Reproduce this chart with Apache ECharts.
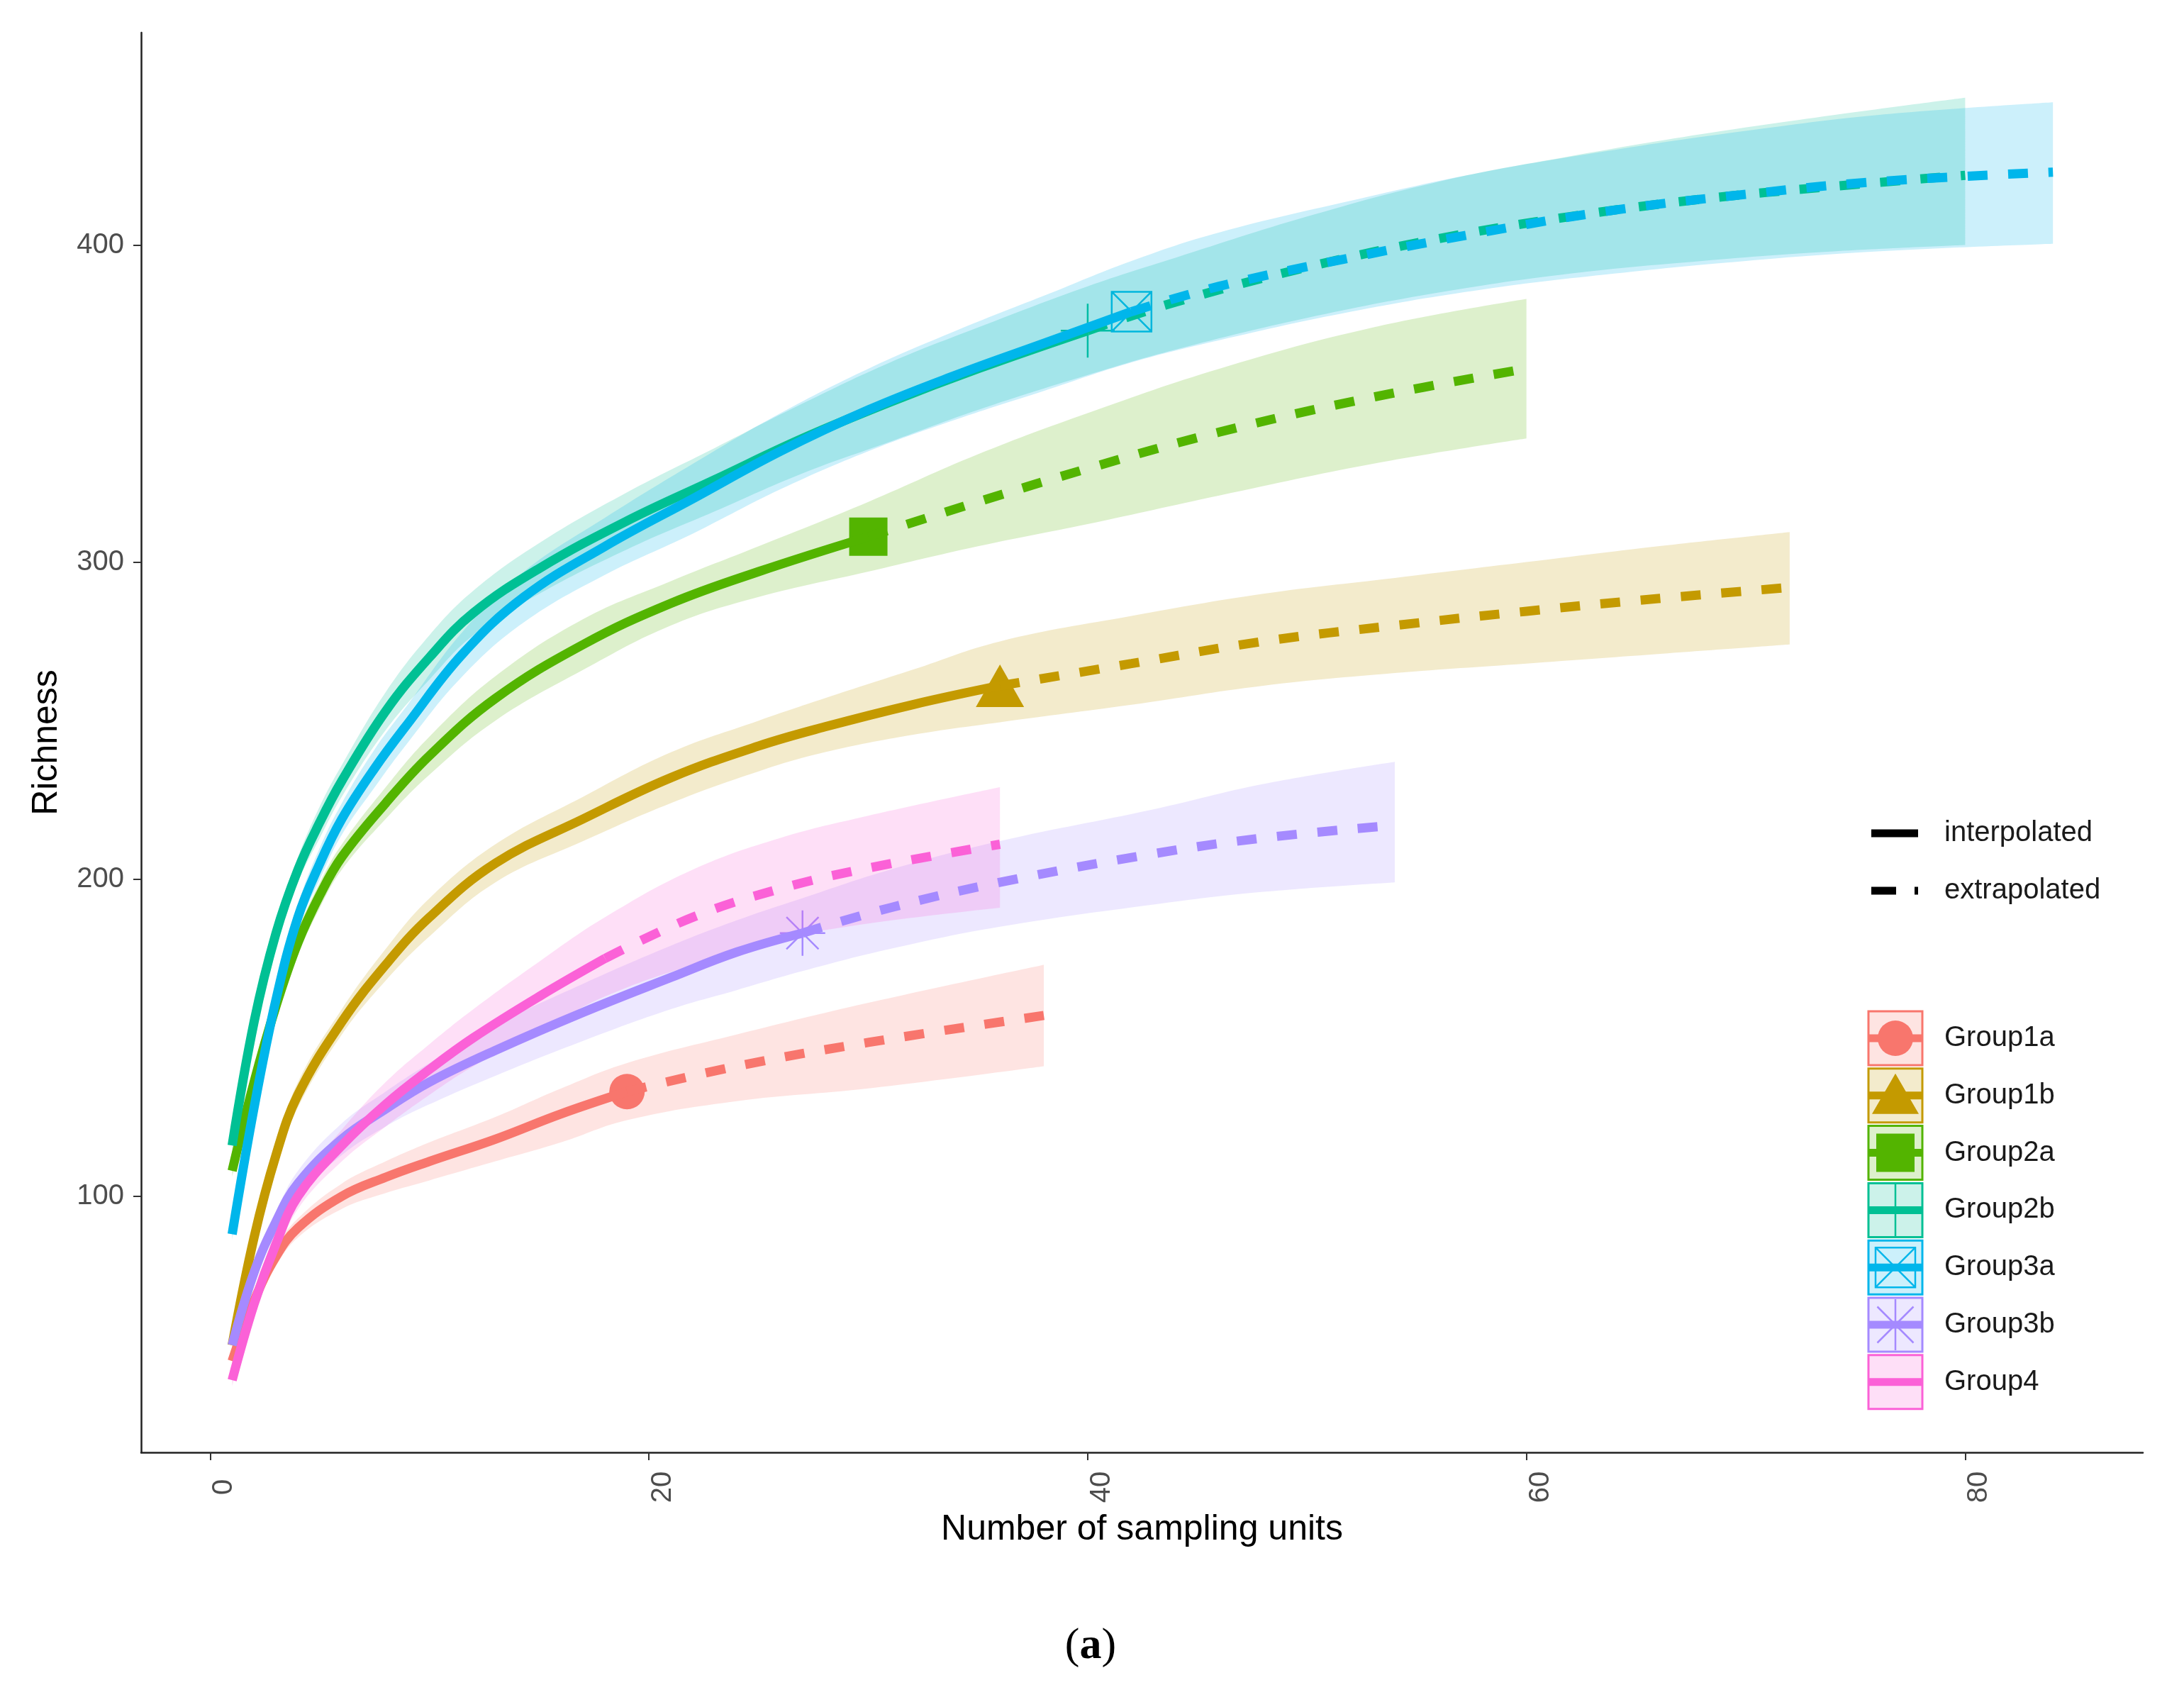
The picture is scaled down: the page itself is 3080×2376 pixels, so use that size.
<!DOCTYPE html>
<html>
<head>
    <meta charset="utf-8">
    <title>Richness rarefaction / extrapolation</title>
    <script src="https://cdn.jsdelivr.net/npm/echarts@6/dist/echarts.min.js"></script>
    <style>
        html, body { margin: 0; padding: 0; background: #fff; }
        #chart { width: 3080px; height: 2376px; }
    </style>
</head>
<body>
<div id="chart"></div>
<script>
    // groups and their observed sample sizes
    var groupNames = ['Group1a', 'Group1b', 'Group2a', 'Group2b', 'Group3a', 'Group3b', 'Group4'];
    var groupColors = ['#F8766D', '#C49A00', '#53B400', '#00C094', '#00B6EB', '#A58AFF', '#FB61D7'];
    var observedN = [19, 36, 30, 40, 42, 27, 18];

    var xTicks = [0, 20, 40, 60, 80];
    var yTicks = [100, 200, 300, 400];

    // Group1a
    var g1aX  = [1, 2, 3, 4, 6, 8, 10, 13, 16, 19, 24, 30, 38];
    var g1aY  = [48, 67, 81, 90, 100, 106, 111, 118, 126, 133, 141, 148.5, 157];
    var g1aLo = [46, 64, 78, 87, 96, 101, 105, 111, 117, 124, 130, 134, 141];
    var g1aHi = [50, 70, 84, 93, 104, 111, 117, 125, 134, 142, 151, 161, 173];

    // Group1b
    var g1bX  = [1, 2, 3, 4, 6, 8, 10, 13, 17, 21, 25, 28, 32, 36, 42, 48, 54, 60, 66, 72];
    var g1bY  = [53, 87, 113, 132, 155, 173, 188, 205, 219, 232, 242, 248, 255, 261, 268, 275, 280, 284.5, 288.5, 292];
    var g1bLo = [51, 84, 110, 128, 151, 168, 182, 199, 212, 224, 234, 240, 245.5, 249.5, 255, 261, 265, 268, 271, 274];
    var g1bHi = [55, 90, 116, 136, 159, 178, 194, 211, 226, 240, 250, 257, 266, 275, 283, 290, 295, 300, 305, 309.5];

    // Group2a
    var g2aX  = [1, 2, 3, 4, 5, 6, 8, 10, 13, 17, 21, 25, 30, 35, 40, 46, 53, 60];
    var g2aY  = [108, 136, 160, 180, 195, 207, 224, 239, 257, 274, 287, 297, 308, 319, 329.5, 341, 352, 361];
    var g2aLo = [106, 133, 156, 176, 191, 203, 219, 233, 250, 266, 280, 289, 297, 305, 312, 321, 331, 339];
    var g2aHi = [110, 139, 164, 184, 199, 211, 229, 245, 264, 282, 294, 305, 319, 334, 347, 361, 374, 383];

    // Group2b
    var g2bX  = [1, 2, 3, 4, 5, 6, 8, 10, 12, 15, 19, 23, 27, 31, 35, 40, 44, 50, 56, 62, 68, 74, 80];
    var g2bY  = [116, 155, 183, 203, 218, 231, 253, 270, 284, 298, 313, 326, 339, 350.5, 361, 373, 382, 393, 402, 409, 414.5, 418.5, 422];
    var g2bLo = [114, 152, 179, 199, 213, 226, 247, 263, 277, 290, 304, 316, 328, 338, 348, 359, 367, 377, 385, 391, 395, 398, 400];
    var g2bHi = [118, 158, 187, 207, 223, 236, 259, 277, 291, 306, 322, 336, 350, 363, 374, 387, 396, 409, 420, 428, 435, 441, 446.5];

    // Group3a
    var g3aX  = [1, 2, 3, 4, 5, 6, 7.5, 9, 11.5, 14.3, 18, 22, 26, 30, 34, 38, 42, 46, 52, 58, 64, 70, 76, 84];
    var g3aY  = [88, 128, 162, 188, 205, 219, 235, 249, 271, 289, 305, 320, 335, 348, 359, 369, 379, 387, 396, 404, 411, 416, 420, 423];
    var g3aLo = [86, 125, 158, 184, 200, 214, 229, 243, 264, 281, 296, 309, 323, 335, 345, 354, 363, 370, 379, 386, 391, 395, 398, 400.4];
    var g3aHi = [90, 131, 166, 192, 210, 224, 241, 255, 278, 297, 314, 331, 347, 361, 373, 384, 395, 404, 414, 423, 430, 436, 441, 445];

    // Group3b
    var g3bX  = [1, 2, 3, 4, 6, 8, 10, 13, 17, 21, 24, 27, 31, 36, 43, 48, 54];
    var g3bY  = [53, 76, 92, 104, 118, 127.5, 136, 146, 158, 169, 177, 183, 191, 199, 208, 213, 217];
    var g3bLo = [51, 73, 89, 100, 113, 122, 129, 138, 149, 159, 165, 171, 178, 185, 192, 196, 199];
    var g3bHi = [55, 79, 95, 108, 123, 133, 142, 154, 167, 179, 187, 194, 203, 212, 222, 230, 237];

    // Group4
    var g4X  = [1, 2, 3, 4, 6, 8, 10, 12, 15, 18, 22, 26, 30, 36];
    var g4Y  = [42, 66, 85, 100, 116, 129, 140, 150, 163, 175, 188, 197, 203.5, 211];
    var g4Lo = [40, 63, 81, 96, 111, 122, 132, 141, 152, 163, 173, 181, 186, 191];
    var g4Hi = [44, 69, 89, 104, 121, 136, 148, 159, 174, 188, 203, 213, 220, 229];

    var groupX  = [g1aX, g1bX, g2aX, g2bX, g3aX, g3bX, g4X];
    var groupY  = [g1aY, g1bY, g2aY, g2bY, g3aY, g3bY, g4Y];
    var groupLo = [g1aLo, g1bLo, g2aLo, g2bLo, g3aLo, g3bLo, g4Lo];
    var groupHi = [g1aHi, g1bHi, g2aHi, g2bHi, g3aHi, g3bHi, g4Hi];

    var plusPath = 'path://M5,0L5,10M0,5L10,5';
    var boxXPath = 'path://M0,0L10,0L10,10L0,10ZM0,0L10,10M10,0L0,10';
    var starPath = 'path://M5,0L5,10M0,5L10,5M1.46,1.46L8.54,8.54M8.54,1.46L1.46,8.54';
    var markerSymbol = ['circle', 'triangle', 'rect', plusPath, boxXPath, starPath, 'none'];
    var markerSize = [50, [68, 60], 54, 76, 56, 64, 0];
    var markerHollow = [false, false, false, true, true, true, false];

    var FONT = '"Liberation Sans", Arial, sans-serif';
    var SMOOTH = 0.4;

    function rgba(hex, a) {
        var n = parseInt(hex.slice(1), 16);
        return 'rgba(' + (n >> 16) + ',' + ((n >> 8) & 255) + ',' + (n & 255) + ',' + a + ')';
    }

    var markerSeries = [], lineSeries = [], bandSeries = [];
    groupNames.forEach(function (name, i) {
        var xs = groupX[i], ys = groupY[i], n = observedN[i], c = groupColors[i];
        var interp = [], extrap = [], obs = null;
        xs.forEach(function (x, k) {
            if (x <= n) interp.push([x, ys[k]]);
            if (x >= n) extrap.push([x, ys[k]]);
            if (x === n) obs = [x, ys[k]];
        });

        if (markerSymbol[i] !== 'none') {
            markerSeries.push({
                type: 'scatter', name: name, data: [obs], silent: true,
                symbol: markerSymbol[i], symbolSize: markerSize[i],
                itemStyle: markerHollow[i]
                    ? {color: 'rgba(0,0,0,0)', borderColor: c, borderWidth: 2.5, opacity: 1}
                    : {color: c, opacity: 1}
            });
        }

        lineSeries.push({
            type: 'line', name: name, data: interp, smooth: SMOOTH,
            symbol: 'none', silent: true,
            lineStyle: {color: c, width: 13, cap: 'butt'}
        });
        lineSeries.push({
            type: 'line', name: name, data: extrap, smooth: SMOOTH,
            symbol: 'none', silent: true,
            lineStyle: {color: c, width: 13, type: [28, 29], cap: 'butt'}
        });

        // ribbon: value put in the first column so that the stack adds on y
        bandSeries.push({
            type: 'line', stack: 'band' + i, encode: {x: 1, y: 0},
            data: xs.map(function (x, k) { return [groupLo[i][k], x]; }),
            smooth: SMOOTH, symbol: 'none', silent: true,
            lineStyle: {opacity: 0, width: 0}
        });
        bandSeries.push({
            type: 'line', stack: 'band' + i, encode: {x: 1, y: 0},
            data: xs.map(function (x, k) { return [groupHi[i][k] - groupLo[i][k], x]; }),
            smooth: SMOOTH, symbol: 'none', silent: true,
            lineStyle: {opacity: 0, width: 0},
            areaStyle: {color: c, opacity: 0.2}
        });
    });

    // legend drawn as graphics (line type keys + group keys)
    var graphics = [];
    var keyX = 2635, keyW = 76, textX = 2742;
    graphics.push({type: 'line', shape: {x1: keyX + 4, y1: 1175, x2: keyX + 70, y2: 1175}, style: {stroke: '#000', lineWidth: 11}});
    graphics.push({type: 'text', x: textX, y: 1175, style: {text: 'interpolated', fontSize: 40, fontFamily: FONT, fill: '#1a1a1a', verticalAlign: 'middle'}});
    graphics.push({type: 'line', shape: {x1: keyX + 4, y1: 1256, x2: keyX + 70, y2: 1256}, style: {stroke: '#000', lineWidth: 11, lineDash: [35, 26]}});
    graphics.push({type: 'text', x: textX, y: 1256, style: {text: 'extrapolated', fontSize: 40, fontFamily: FONT, fill: '#1a1a1a', verticalAlign: 'middle'}});

    groupNames.forEach(function (name, i) {
        var c = groupColors[i];
        var cy = 1464 + i * 80.8;
        var cx = keyX + keyW / 2;
        graphics.push({type: 'rect', shape: {x: keyX, y: cy - 38, width: keyW, height: 76},
            style: {fill: rgba(c, 0.2), stroke: c, lineWidth: 3}});
        graphics.push({type: 'line', shape: {x1: keyX, y1: cy, x2: keyX + keyW, y2: cy},
            style: {stroke: c, lineWidth: 11}});
        var thin = {stroke: c, lineWidth: 2.5, fill: null};
        if (i === 0) {
            graphics.push({type: 'circle', shape: {cx: cx, cy: cy, r: 25}, style: {fill: c}});
        } else if (i === 1) {
            graphics.push({type: 'polygon', shape: {points: [[cx, cy - 31], [cx + 33, cy + 26], [cx - 33, cy + 26]]}, style: {fill: c}});
        } else if (i === 2) {
            graphics.push({type: 'rect', shape: {x: cx - 27, y: cy - 27, width: 54, height: 54}, style: {fill: c}});
        } else if (i === 3) {
            graphics.push({type: 'line', shape: {x1: cx, y1: cy - 38, x2: cx, y2: cy + 38}, style: thin});
        } else if (i === 4) {
            graphics.push({type: 'rect', shape: {x: cx - 28, y: cy - 28, width: 56, height: 56}, style: thin});
            graphics.push({type: 'line', shape: {x1: cx - 28, y1: cy - 28, x2: cx + 28, y2: cy + 28}, style: thin});
            graphics.push({type: 'line', shape: {x1: cx + 28, y1: cy - 28, x2: cx - 28, y2: cy + 28}, style: thin});
        } else if (i === 5) {
            [[0, 36], [36, 0], [25.5, 25.5], [25.5, -25.5]].forEach(function (d) {
                graphics.push({type: 'line', shape: {x1: cx - d[0], y1: cy - d[1], x2: cx + d[0], y2: cy + d[1]}, style: thin});
            });
        }
        graphics.push({type: 'text', x: textX, y: cy, style: {text: name, fontSize: 40, fontFamily: FONT, fill: '#1a1a1a', verticalAlign: 'middle'}});
    });

    // panel caption
    graphics.push({
        type: 'text', x: 1538, y: 2322,
        style: {
            text: '{n|(}{b|a}{n|)}', align: 'center', verticalAlign: 'middle',
            rich: {
                n: {fontSize: 62, fontFamily: '"Liberation Serif", "DejaVu Serif", serif', fill: '#000'},
                b: {fontSize: 62, fontWeight: 'bold', fontFamily: '"Liberation Serif", "DejaVu Serif", serif', fill: '#000'}
            }
        }
    });

    var myChart = echarts.init(document.getElementById('chart'));
    var option = {
        animation: false,
        backgroundColor: '#fff',
        grid: {left: 199, right: 58, top: 46, bottom: 328, containLabel: false},
        xAxis: {
            type: 'value', min: -3.15, max: 88.1,
            name: 'Number of sampling units', nameLocation: 'middle', nameGap: 84,
            nameTextStyle: {fontSize: 50, fontFamily: FONT, color: '#000'},
            axisLine: {show: true, onZero: false, lineStyle: {color: '#222', width: 2.5}},
            axisTick: {show: true, customValues: xTicks, length: 11, lineStyle: {color: '#333', width: 2}},
            axisLabel: {customValues: xTicks, rotate: 90, margin: 49, align: 'center', verticalAlign: 'top',
                fontSize: 40, fontFamily: FONT, color: '#4d4d4d'},
            splitLine: {show: false}
        },
        yAxis: {
            type: 'value', min: 19.2, max: 467,
            name: 'Richness', nameLocation: 'middle', nameRotate: 90, nameGap: 108,
            nameTextStyle: {fontSize: 50, fontFamily: FONT, color: '#000'},
            axisLine: {show: true, onZero: false, lineStyle: {color: '#222', width: 2.5}},
            axisTick: {show: true, customValues: yTicks, length: 11, lineStyle: {color: '#333', width: 2}},
            axisLabel: {customValues: yTicks, margin: 24, fontSize: 40, fontFamily: FONT, color: '#4d4d4d'},
            splitLine: {show: false}
        },
        graphic: graphics,
        series: markerSeries.concat(lineSeries, bandSeries)
    };
    myChart.setOption(option);
</script>
</body>
</html>
